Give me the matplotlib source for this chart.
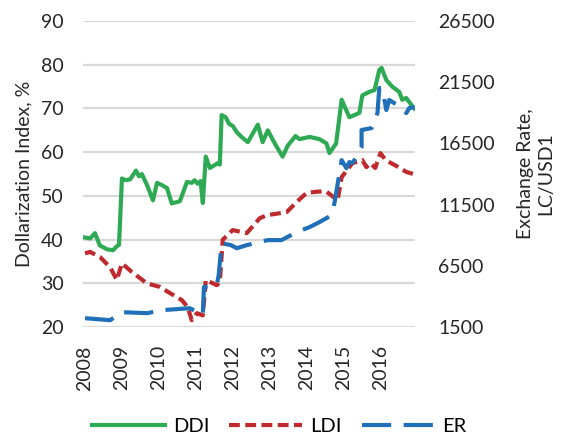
import matplotlib
matplotlib.use("Agg")
import matplotlib.pyplot as plt

plt.rcParams['font.family'] = ['Lato', 'DejaVu Sans']

# DDI, % (left axis)
ddi_x = [2008.0, 2008.14, 2008.27, 2008.4, 2008.6, 2008.76, 2008.86, 2008.92, 2009.0,
         2009.1, 2009.22, 2009.38, 2009.46, 2009.54, 2009.68, 2009.84, 2009.95, 2010.08,
         2010.22, 2010.35, 2010.57, 2010.76, 2010.89, 2010.97, 2011.05, 2011.13, 2011.19,
         2011.27, 2011.38, 2011.5, 2011.6, 2011.65, 2011.7, 2011.81, 2011.9, 2012.0,
         2012.12, 2012.24, 2012.41, 2012.68, 2012.81, 2012.95, 2013.14, 2013.35, 2013.49,
         2013.7, 2013.81, 2014.08, 2014.35, 2014.54, 2014.62, 2014.8, 2014.95, 2015.16,
         2015.43, 2015.51, 2015.7, 2015.84, 2015.97, 2016.03, 2016.16, 2016.32, 2016.51,
         2016.59, 2016.7, 2016.84, 2016.92]
ddi_y = [40.5, 40.3, 41.5, 38.7, 37.8, 37.6, 38.5, 38.8, 54.0,
         53.6, 53.8, 55.8, 54.5, 55.0, 52.5, 49.0, 53.0, 52.5,
         51.8, 48.3, 48.8, 53.2, 53.0, 53.6, 52.8, 53.4, 48.4,
         59.0, 56.4, 57.0, 57.5, 57.2, 68.5, 68.0, 66.5, 66.0,
         64.5, 63.5, 62.3, 66.3, 62.3, 65.0, 62.0, 59.0, 61.5,
         63.7, 63.0, 63.5, 63.0, 62.0, 59.8, 62.0, 72.0, 68.0,
         69.0, 73.0, 73.8, 74.2, 78.8, 79.3, 76.5, 75.0, 73.8,
         72.0, 72.4, 70.8, 70.0]

# LDI, % (left axis)
ldi_x = [2008.0, 2008.14, 2008.41, 2008.68, 2008.86, 2009.0, 2009.27, 2009.68, 2010.03,
         2010.3, 2010.62, 2010.78, 2010.89, 2011.03, 2011.19, 2011.27, 2011.57, 2011.65,
         2011.73, 2012.0, 2012.38, 2012.73, 2012.92, 2013.46, 2013.73, 2014.0, 2014.3,
         2014.54, 2014.84, 2014.95, 2015.24, 2015.51, 2015.62, 2015.73, 2015.86, 2016.0,
         2016.14, 2016.49, 2016.7, 2016.9]
ldi_y = [36.9, 37.2, 36.0, 33.7, 30.8, 34.6, 32.6, 30.0, 29.2,
         27.8, 26.2, 24.6, 21.6, 23.2, 22.7, 30.8, 29.6, 30.3,
         40.0, 42.2, 41.5, 44.9, 45.6, 46.3, 48.6, 50.7, 51.0,
         51.0, 49.0, 54.3, 57.5, 58.2, 56.6, 57.5, 56.4, 59.8,
         58.2, 56.6, 55.5, 55.0]

# ER, LC/USD1 (right axis)
er_x = [2008.0, 2008.68, 2009.0, 2009.68, 2010.08, 2010.84, 2011.19, 2011.22, 2011.57,
        2011.62, 2011.7, 2011.95, 2012.11, 2012.38, 2012.59, 2012.95, 2013.32, 2013.73,
        2014.08, 2014.35, 2014.68, 2014.76, 2014.95, 2015.08, 2015.16, 2015.24, 2015.35,
        2015.49, 2015.49, 2015.76, 2015.92, 2015.97, 2016.05, 2016.16, 2016.24, 2016.59,
        2016.7, 2016.78, 2016.92]
er_y = [2235, 2070, 2725, 2645, 2890, 3050, 2480, 4770, 4930,
        5750, 8360, 8200, 7950, 8200, 8360, 8610, 8610, 9260,
        9670, 10080, 10650, 11710, 15140, 14490, 14980, 14900, 15390,
        16200, 17600, 17760, 18980, 21030, 21030, 19230, 20050, 19390,
        18980, 19390, 19480]

years = list(range(2008, 2017))

fig = plt.figure(figsize=(5.62, 4.38), dpi=100)
ax = fig.add_axes([0.148, 0.253, 0.59, 0.699])
ax2 = ax.twinx()

grid_c = '#d9d9d9'
ax.set_ylim(20, 90)
ax.set_yticks(range(20, 91, 10))
ax.grid(axis='y', color=grid_c, linewidth=1.6)
ax.set_axisbelow(True)
ax.set_xlim(2007.95, 2016.93)
ax.set_xticks(years)
ax.set_xticklabels([str(y) for y in years], rotation=90)

green, red, blue = '#2eaa55', '#be2a2d', '#1f70b8'
l1, = ax.plot(ddi_x, ddi_y, color=green, linewidth=3.0, label='DDI')
l2, = ax.plot(ldi_x, ldi_y, color=red, linewidth=3.0, dashes=(2.6, 1.3), label='LDI')
l3, = ax2.plot(er_x, er_y, color=blue, linewidth=3.0, dashes=(7, 3), label='ER')

ax2.set_ylim(1500, 26500)
ax2.set_yticks(range(1500, 26501, 5000))

for a in (ax, ax2):
    for s in a.spines.values():
        s.set_visible(False)
    a.tick_params(length=0, labelsize=14, colors='#262626', pad=14)
ax.tick_params(axis='x', pad=13)
ax2.tick_params(axis='y', pad=17)

ax.set_ylabel('Dollarization Index, %', fontsize=14, color='#262626', labelpad=6)
ax2.set_ylabel('Exchange Rate,\nLC/USD1', fontsize=14, color='#262626', labelpad=16)

fig.legend(handles=[l1, l2, l3], loc='center', bbox_to_anchor=(0.497, 0.027), ncol=3,
           frameon=False, fontsize=14.5, handlelength=3.6, columnspacing=1.0, handletextpad=0.4)

fig.savefig('out.png', dpi=100)
